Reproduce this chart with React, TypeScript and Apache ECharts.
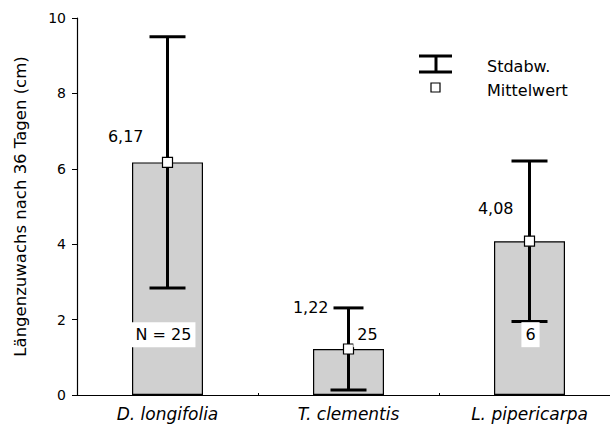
import React, { useEffect, useRef } from "react";
import * as echarts from "echarts";

const categories = ["D. longifolia", "T. clementis", "L. pipericarpa"];
const means = [6.17, 1.22, 4.08];
const stdDevs = [3.33, 1.09, 2.13];
const meanLabels = ["6,17", "1,22", "4,08"];
const nLabels = ["N = 25", "25", "6"];
const yTicks = [0, 2, 4, 6, 8, 10];

const FONT = "'DejaVu Sans', 'Liberation Sans', Arial, sans-serif";

export default function App() {
  const ref = useRef<HTMLDivElement>(null);
  useEffect(() => {
    if (!ref.current) return;
    const chart = echarts.init(ref.current, undefined, { renderer: "svg" });

    // per-category label placement (pixel offsets relative to the error bar)
    const meanLabelOffsets = [
      { dx: -24, dy: -26, ref: "mean" },
      { dx: -20, dy: 0, ref: "top" },
      { dx: -16, dy: -33, ref: "mean" },
    ];
    const nLabelDx = [-4, 19, 1];
    const nLabelValue = 1.6;
    const capWidths = [36, 30, 36];
    const capWidthsBottom = [36, 36, 36];

    const option: any = {
      animation: false,
      backgroundColor: "#ffffff",
      grid: { left: 77, right: 0, top: 18, bottom: 31, containLabel: false },
      xAxis: {
        type: "category",
        data: categories,
        axisLine: { lineStyle: { color: "#000", width: 1.2 } },
        axisTick: { show: true, inside: true, length: 2, lineStyle: { color: "#000" } },
        axisLabel: {
          color: "#000",
          fontFamily: FONT,
          fontStyle: "italic",
          fontSize: 17,
          margin: 10,
        },
      },
      yAxis: {
        type: "value",
        min: 0,
        max: 10,
        interval: 2,
        name: "Längenzuwachs nach 36 Tagen (cm)",
        nameLocation: "middle",
        nameGap: 48,
        nameTextStyle: { color: "#000", fontFamily: FONT, fontSize: 16.5 },
        axisLine: { show: true, lineStyle: { color: "#000", width: 1.2 } },
        axisTick: { show: true, length: 5, lineStyle: { color: "#000" } },
        splitLine: { show: false },
        axisLabel: {
          color: "#000",
          fontFamily: FONT,
          fontSize: 14,
          margin: 11,
          formatter: (v: number) => (yTicks.includes(v) ? String(v) : ""),
        },
      },
      series: [
        {
          type: "bar",
          data: means,
          barWidth: 71,
          itemStyle: { color: "#d0d0d0", borderColor: "#000", borderWidth: 1.2 },
          z: 1,
        },
        {
          type: "custom",
          z: 3,
          data: means.map((m, i) => [i, m, stdDevs[i]]),
          renderItem: (params: any, api: any) => {
            const i = api.value(0);
            const m = api.value(1);
            const sd = api.value(2);
            const pMean = api.coord([i, m]);
            const pTop = api.coord([i, m + sd]);
            const pBot = api.coord([i, m - sd]);
            const x = pMean[0];
            const cw = capWidths[i] / 2;
            const cwb = capWidthsBottom[i] / 2;
            const lineStyle = { stroke: "#000", lineWidth: 3 };
            const off = meanLabelOffsets[i];
            const refY = off.ref === "mean" ? pMean[1] : pTop[1];
            const pN = api.coord([i, nLabelValue]);
            return {
              type: "group",
              children: [
                { type: "line", shape: { x1: x, y1: pTop[1], x2: x, y2: pBot[1] }, style: lineStyle },
                { type: "line", shape: { x1: x - cw, y1: pTop[1], x2: x + cw, y2: pTop[1] }, style: lineStyle },
                { type: "line", shape: { x1: x - cwb, y1: pBot[1], x2: x + cwb, y2: pBot[1] }, style: lineStyle },
                {
                  type: "rect",
                  shape: { x: x - 5, y: pMean[1] - 5, width: 10, height: 10 },
                  style: { fill: "#fff", stroke: "#000", lineWidth: 1.2 },
                },
                {
                  type: "text",
                  style: {
                    text: meanLabels[i],
                    x: x + off.dx,
                    y: refY + off.dy,
                    align: "right",
                    verticalAlign: "middle",
                    fill: "#000",
                    font: `16px ${FONT}`,
                  },
                },
                {
                  type: "text",
                  style: {
                    text: nLabels[i],
                    x: x + nLabelDx[i],
                    y: pN[1],
                    align: "center",
                    verticalAlign: "middle",
                    fill: "#000",
                    font: `16px ${FONT}`,
                    backgroundColor: "#fff",
                    padding: [5, 4, 4, 4],
                  },
                },
              ],
            };
          },
        },
      ],
      graphic: [
        { type: "line", shape: { x1: 419, y1: 56, x2: 452, y2: 56 }, style: { stroke: "#000", lineWidth: 3 } },
        { type: "line", shape: { x1: 419, y1: 72, x2: 452, y2: 72 }, style: { stroke: "#000", lineWidth: 3 } },
        { type: "line", shape: { x1: 436, y1: 56, x2: 436, y2: 72 }, style: { stroke: "#000", lineWidth: 3 } },
        {
          type: "rect",
          shape: { x: 431, y: 83, width: 9, height: 9 },
          style: { fill: "#fff", stroke: "#000", lineWidth: 1.2 },
        },
        {
          type: "text",
          style: { text: "Stdabw.", x: 487, y: 66, verticalAlign: "middle", fill: "#000", font: `16px ${FONT}` },
        },
        {
          type: "text",
          style: { text: "Mittelwert", x: 487, y: 90, verticalAlign: "middle", fill: "#000", font: `16px ${FONT}` },
        },
      ],
    };
    chart.setOption(option);
    return () => chart.dispose();
  }, []);
  return (
    <div style={{ width: 610, height: 426, position: "absolute", left: 0, top: 0, overflow: "hidden" }}>
      <div ref={ref} style={{ width: 620, height: 426 }} />
    </div>
  );
}
